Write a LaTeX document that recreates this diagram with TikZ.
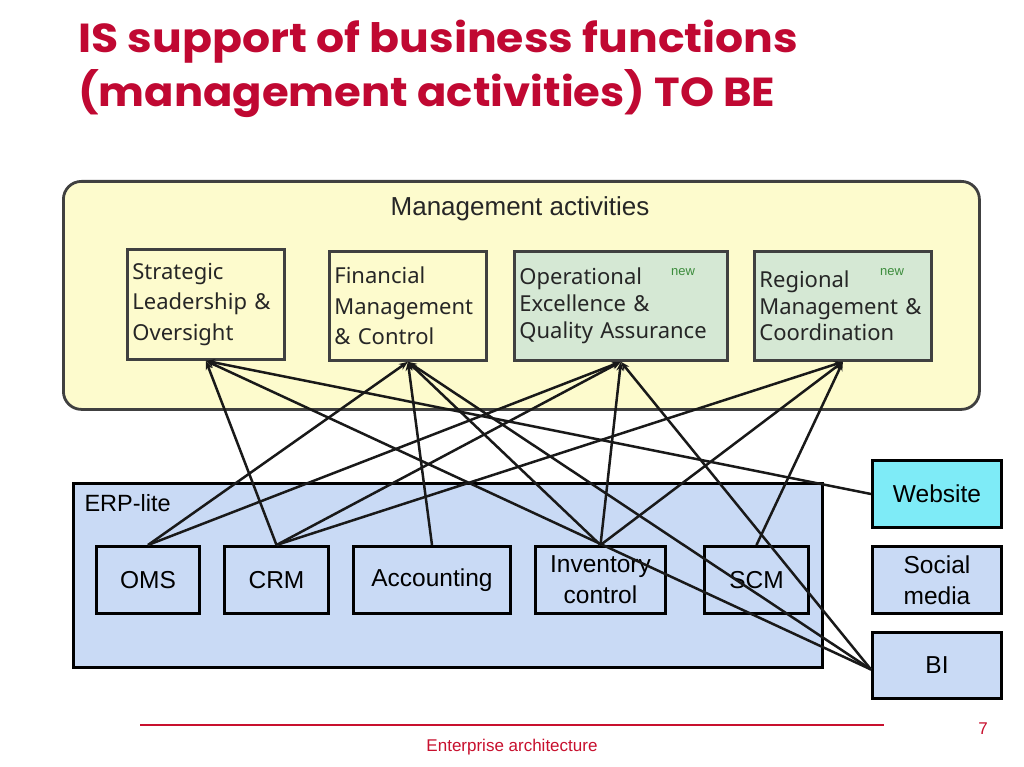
\documentclass[tikz,border=0pt]{standalone}
\usepackage{fontspec}
\setmainfont{Liberation Sans}
\newfontfamily\titlefont{Poppins}
\newfontfamily\boxfont{Noto Sans}
\usetikzlibrary{arrows.meta}
\definecolor{titlered}{RGB}{192,8,50}
\definecolor{mgmtfill}{RGB}{253,251,205}
\definecolor{greenfill}{RGB}{213,232,212}
\definecolor{bluefill}{RGB}{201,218,245}
\definecolor{cyanfill}{RGB}{126,235,247}
\definecolor{edgegray}{RGB}{64,64,64}
\definecolor{newgreen}{RGB}{60,140,60}
\definecolor{footred}{RGB}{200,16,46}
\tikzset{
  mgmtbox/.style={draw=edgegray, line width=2.8pt, fill=mgmtfill, anchor=north west,
    inner sep=5pt, align=left, font=\boxfont\fontsize{22}{30.5}\selectfont, text=black!85},
  newbox/.style={mgmtbox, fill=greenfill, font=\boxfont\fontsize{22}{26.7}\selectfont},
  sysbox/.style={draw=black, line width=3pt, fill=bluefill, anchor=north west,
    inner sep=2pt, align=center, font=\fontsize{24.5}{31}\selectfont, text=black},
  conn/.style={-{Stealth[length=9pt,width=7pt]}, line width=2.5pt, draw=black!90},
  newtag/.style={font=\fontsize{13}{14}\selectfont, text=newgreen},
  titleline/.style={anchor=base west, inner sep=0pt, text=titlered,
    font=\titlefont\bfseries\fontsize{40.5}{50}\selectfont}
}
\begin{document}
\begin{tikzpicture}[x=1pt,y=-1pt]
\useasboundingbox (0,0) rectangle (1024,767);
\fill[white] (0,0) rectangle (1024,767);
% title
\node[titleline] (title1) at (78,53) {\scalebox{1.09}[1]{IS support of business functions}};
\node[titleline] (title2) at (78,107) {\scalebox{1.07}[1]{(management activities) TO BE}};
% management container
\node[draw=edgegray, line width=2.8pt, fill=mgmtfill, rounded corners=18pt,
  anchor=north west, minimum width=916pt, minimum height=228pt] (mgmt) at (62,180) {};
\node[font=\fontsize{26}{30}\selectfont, text=black!85] (mgmtlabel) at (520,209) {Management activities};
\node[mgmtbox, minimum width=157pt, minimum height=110pt, text width=147pt] (strat) at (126,248)
  {Strategic\\Leadership \&\\Oversight};
\node[mgmtbox, minimum width=157pt, minimum height=109pt, text width=147pt] (fin) at (328,250)
  {Financial\\Management\\\& Control};
\node[newbox, minimum width=213pt, minimum height=109pt, text width=203pt] (oper) at (513,250)
  {Operational\\Excellence \&\\Quality Assurance};
\node[newbox, minimum width=177pt, minimum height=109pt, text width=167pt] (reg) at (753,250)
  {Regional\\Management \&\\Coordination};
\node[newtag] (new1) at (683,272) {new};
\node[newtag] (new2) at (892,272) {new};
% ERP container
\node[draw=black, line width=3pt, fill=bluefill, anchor=north west,
  minimum width=749pt, minimum height=184pt] (erp) at (72,482) {};
\node[anchor=west, font=\fontsize{23.5}{28}\selectfont] (erplabel) at (81,503) {ERP-lite};
\node[sysbox, minimum width=103pt, minimum height=67pt] (oms) at (95,545) {OMS};
\node[sysbox, minimum width=104pt, minimum height=67pt] (crm) at (223,545) {CRM};
\node[sysbox, minimum width=157pt, minimum height=67pt] (acc) at (352,545) {Accounting};
\node[sysbox, minimum width=130pt, minimum height=67pt] (inv) at (534,545) {Inventory\\control};
\node[sysbox, minimum width=104pt, minimum height=67pt] (scm) at (703,545) {SCM};
% right side systems
\node[sysbox, fill=cyanfill, minimum width=129pt, minimum height=67pt] (web) at (871,459) {Website};
\node[sysbox, minimum width=129pt, minimum height=67pt] (soc) at (871,545) {Social\\media};
\node[sysbox, minimum width=129pt, minimum height=66pt] (bi) at (871,631) {BI};
% connectors
\draw[conn] (oms.north) -- (fin.south);
\draw[conn] (oms.north) -- (oper.south);
\draw[conn] (crm.north) -- (strat.south);
\draw[conn] (crm.north) -- (oper.south);
\draw[conn] (crm.north) -- (reg.south);
\draw[conn] (acc.north) -- (fin.south);
\draw[conn] (inv.north) -- (fin.south);
\draw[conn] (inv.north) -- (oper.south);
\draw[conn] (inv.north) -- (reg.south);
\draw[conn] (scm.north) -- (reg.south);
\draw[conn] (web.west) -- (strat.south);
\draw[conn] ([yshift=-4pt]bi.west) -- (strat.south);
\draw[conn] ([yshift=-4pt]bi.west) -- (fin.south);
\draw[conn] ([yshift=-4pt]bi.west) -- (oper.south);
% footer
\draw[footred, line width=1.8pt] (140,725) -- (884,725);
\node[text=footred, font=\fontsize{17}{20}\selectfont] (foot) at (512,747) {Enterprise architecture};
\node[text=footred, font=\fontsize{17}{20}\selectfont] (pagenum) at (983,729) {7};
\end{tikzpicture}
\end{document}
